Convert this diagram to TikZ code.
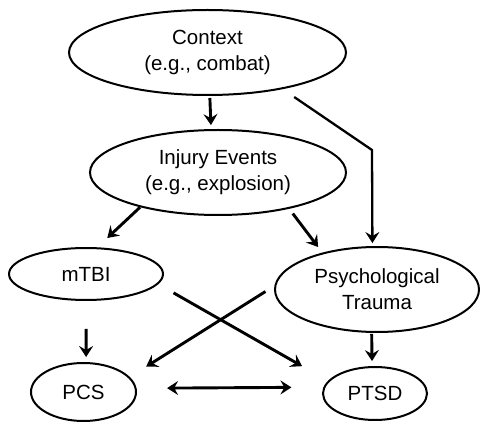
\documentclass[tikz,border=0pt]{standalone}
\usepackage{fontspec}
\setmainfont{Liberation Sans}
\usetikzlibrary{shapes.geometric,arrows.meta}
\begin{document}
\begin{tikzpicture}[x=1pt,y=-1pt,
  oval/.style={ellipse,draw,line width=2pt,inner sep=0pt,align=center,
    font=\fontsize{20.5}{26}\selectfont},
  tip/.tip={Stealth[length=11pt,width=14pt,inset=4pt]},
  arr/.style={line width=2.9pt,-tip}]
\useasboundingbox (0,0) rectangle (480,422);
\node[oval,minimum width=277pt,minimum height=85pt] (ctx) at (207.5,52.5) {Context\\(e.g., combat)};
\node[oval,minimum width=256pt,minimum height=85pt] (inj) at (218,172.5) {Injury Events\\(e.g., explosion)};
\node[oval,minimum width=154pt,minimum height=52pt] (mtbi) at (86,274) {mTBI};
\node[oval,minimum width=204pt,minimum height=85pt] (psy) at (377,289.5) {Psychological\\Trauma};
\node[oval,minimum width=105pt,minimum height=58pt] (pcs) at (83.5,392) {PCS};
\node[oval,minimum width=104pt,minimum height=53pt] (ptsd) at (375,393.5) {PTSD};
\coordinate (bend) at (372,150);
\draw[arr,shorten <=2pt,shorten >=4pt] (ctx.273.2) -- (inj.99.8);
\draw[arr,line width=2.3pt,shorten <=14pt,shorten >=3pt] (ctx.-26.5) -- (bend) -- (psy.96.7);
\draw[arr,shorten <=0pt,shorten >=13.6pt] (inj.204.6) -- (mtbi.67.4);
\draw[arr,shorten <=6pt,shorten >=7pt] (inj.-27.3) -- (psy.146.7);
\draw[arr,shorten <=10.5pt,shorten >=19.3pt] (psy.178.9) -- (pcs.18.3);
\draw[arr,shorten <=17.6pt,shorten >=29.7pt] (mtbi.-8.3) -- (ptsd.165);
\draw[arr,shorten <=28pt,shorten >=5pt] (mtbi.270) -- (pcs.85);
\draw[arr,shorten <=1pt,shorten >=5pt] (psy.263.3) -- (ptsd.96.5);
\draw[arr,tip-tip,shorten <=30.5pt,shorten >=32pt] (pcs.4) -- (ptsd.173.8);
\end{tikzpicture}
\end{document}
